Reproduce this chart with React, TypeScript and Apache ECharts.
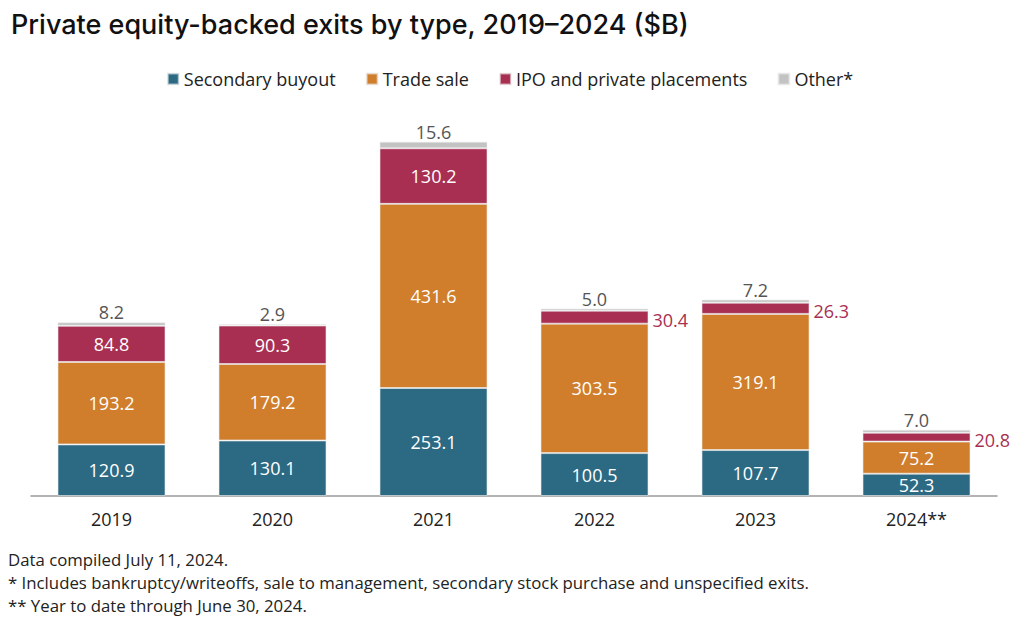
import React, { useEffect, useRef } from "react";
import * as echarts from "echarts";

const categories = ["2019", "2020", "2021", "2022", "2023", "2024**"];
const secondaryBuyout = [120.9, 130.1, 253.1, 100.5, 107.7, 52.3];
const tradeSale = [193.2, 179.2, 431.6, 303.5, 319.1, 75.2];
const ipoPrivate = [84.8, 90.3, 130.2, 30.4, 26.3, 20.8];
const other = [8.2, 2.9, 15.6, 5.0, 7.2, 7.0];
const ipoLabelOutside = [false, false, false, true, true, true];

const seriesNames = ["Secondary buyout", "Trade sale", "IPO and private placements", "Other*"];
const colors = ["#2c6a84", "#d07e2c", "#a82f52", "#c3c3c3"];
const footnotes = [
  "Data compiled July 11, 2024.",
  "* Includes bankruptcy/writeoffs, sale to management, secondary stock purchase and unspecified exits.",
  "** Year to date through June 30, 2024.",
];

const FONT = "'Open Sans', Roboto, sans-serif";
const TITLE_FONT = "Inter, 'Open Sans', sans-serif";

export default function App() {
  const ref = useRef<HTMLDivElement>(null);
  useEffect(() => {
    document.body.style.margin = "0";
    const chart = echarts.init(ref.current!, undefined, { renderer: "svg" });
    const inside = { show: true, position: "inside", color: "#ffffff", fontSize: 18, fontFamily: FONT, formatter: (p: any) => p.value.toFixed(1) };
    const border = { borderColor: "rgba(235,235,235,0.6)", borderWidth: 1 };
    chart.setOption({
      animation: false,
      textStyle: { fontFamily: FONT },
      title: {
        text: "Private equity-backed exits by type, 2019\u20132024 ($B)",
        left: 6,
        top: 6,
        textStyle: { fontSize: 27, fontWeight: 500, color: "#111", fontFamily: TITLE_FONT },
      },
      legend: {
        top: 65,
        left: "center",
        itemWidth: 11,
        itemHeight: 11,
        itemGap: 30,
        icon: "rect",
        textStyle: { fontSize: 18, color: "#222", fontFamily: FONT },
        data: seriesNames,
      },
      grid: { left: 31, right: 23, top: 112, bottom: 130, containLabel: false },
      xAxis: {
        type: "category",
        data: categories,
        axisTick: { show: false },
        axisLine: { lineStyle: { color: "#9a9a9a", width: 1.5 } },
        axisLabel: { fontSize: 18, color: "#222", margin: 14, fontFamily: FONT },
      },
      yAxis: { type: "value", min: 0, max: 900, show: false, splitLine: { show: false } },
      series: [
        {
          name: seriesNames[0], type: "bar", stack: "a", barWidth: 108,
          itemStyle: { color: colors[0], ...border },
          label: inside,
          data: secondaryBuyout,
        },
        {
          name: seriesNames[1], type: "bar", stack: "a", barWidth: 108,
          itemStyle: { color: colors[1], ...border },
          label: inside,
          data: tradeSale,
        },
        {
          name: seriesNames[2], type: "bar", stack: "a", barWidth: 108,
          itemStyle: { color: colors[2], ...border },
          label: inside,
          data: ipoPrivate.map((v, i) =>
            ipoLabelOutside[i]
              ? { value: v, label: { show: true, position: "right", color: colors[2], distance: 4, offset: [0, 3], fontSize: 18 } }
              : { value: v }
          ),
        },
        {
          name: seriesNames[3], type: "bar", stack: "a", barWidth: 108,
          itemStyle: { color: colors[3], ...border },
          label: { show: true, position: "top", color: "#555", fontSize: 18, distance: 1, fontFamily: FONT, formatter: (p: any) => p.value.toFixed(1) },
          data: other,
        },
      ],
      graphic: footnotes.map((t, i) => ({
        type: "text",
        left: 8,
        top: 551 + i * 23,
        style: { text: t, fontSize: 16.8, fill: "#222", fontFamily: FONT },
      })),
    });
    return () => chart.dispose();
  }, []);
  return <div ref={ref} style={{ width: 1020, height: 626 }} />;
}
